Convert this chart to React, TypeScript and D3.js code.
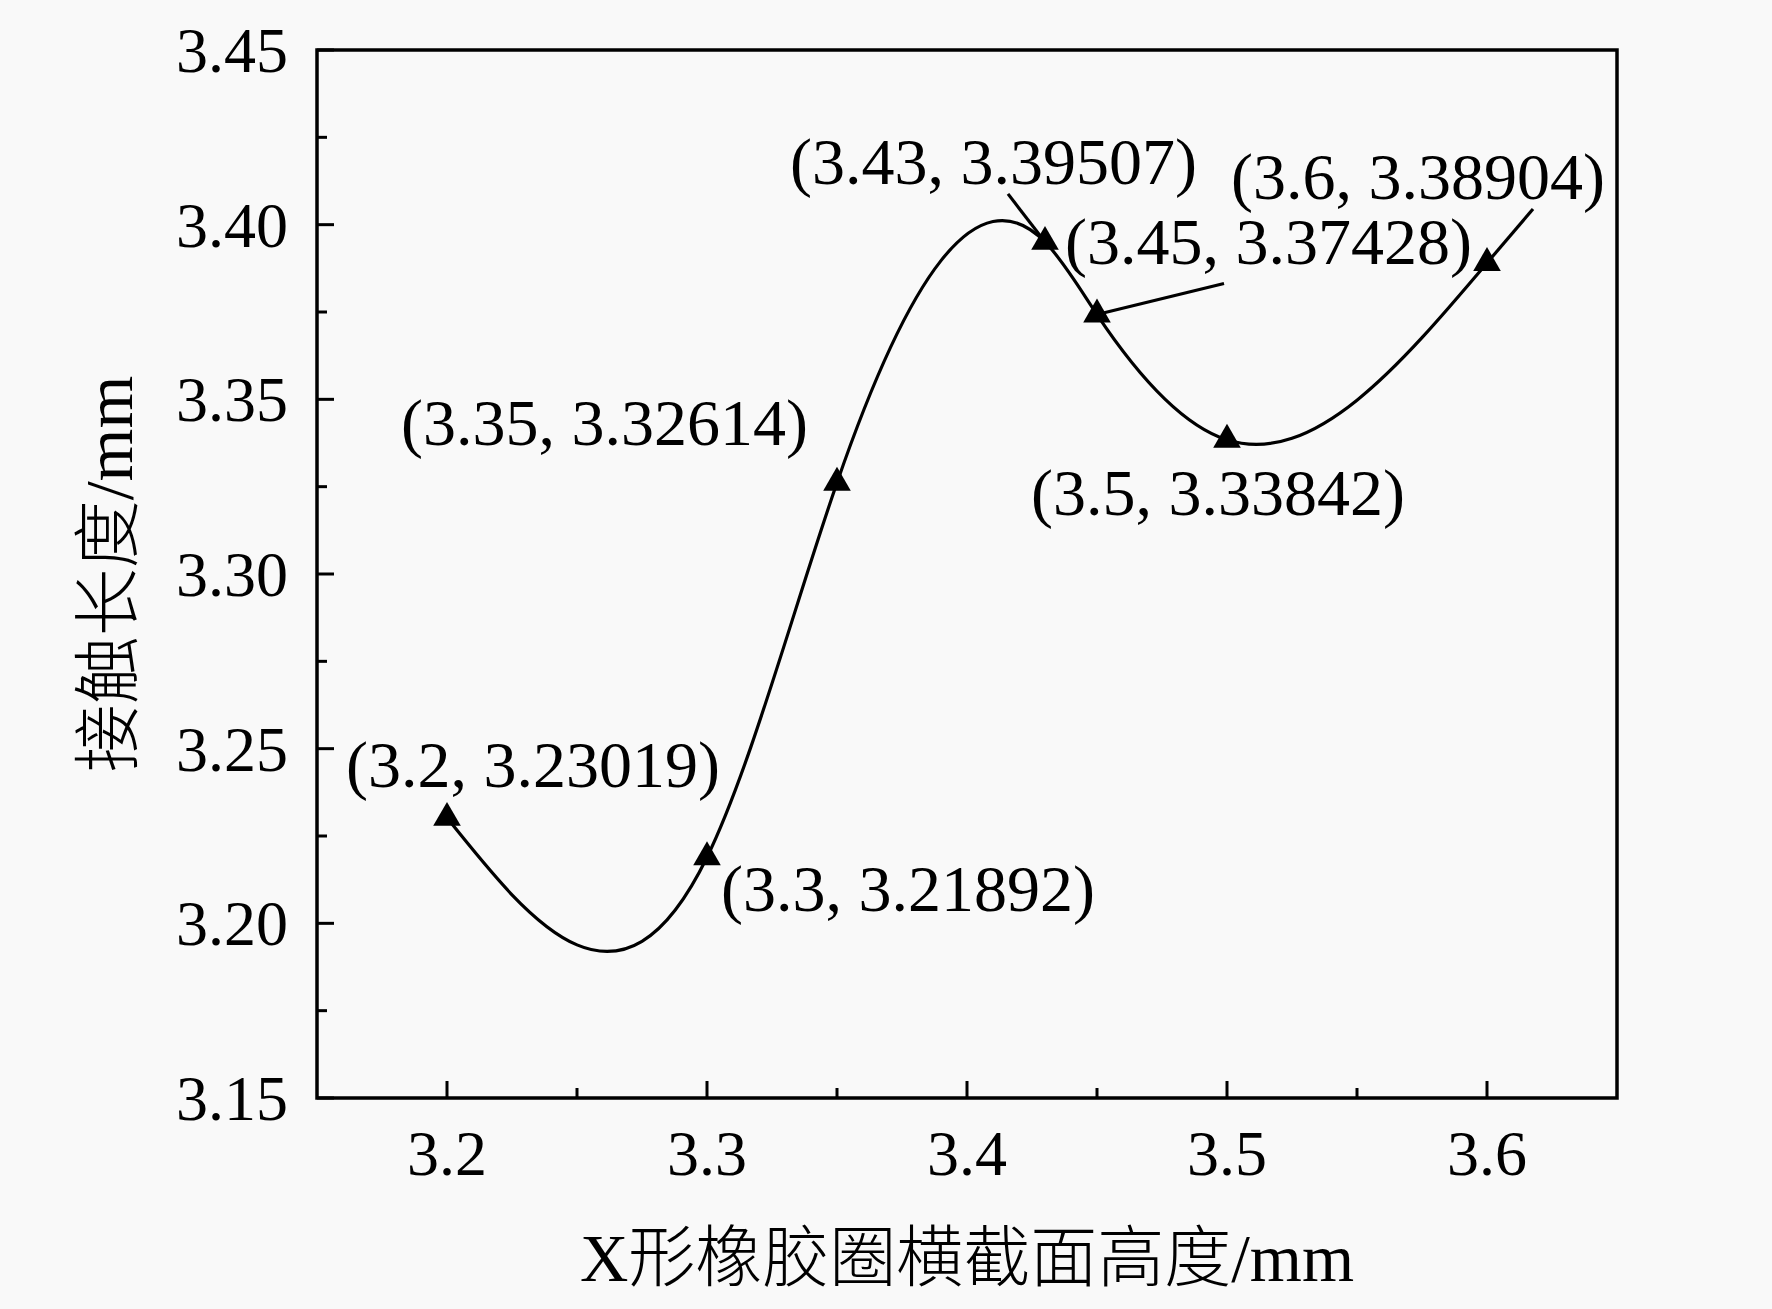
import { useMemo } from "react";
import * as d3 from "d3";

// 数据：X形橡胶圈横截面高度 vs 接触长度
const heights = [3.2, 3.3, 3.35, 3.43, 3.45, 3.5, 3.6];
const contactLengths = [3.23019, 3.21892, 3.32614, 3.39507, 3.37428, 3.33842, 3.38904];

const xTicks = [3.2, 3.3, 3.4, 3.5, 3.6];
const xMinorTicks = [3.25, 3.35, 3.45, 3.55];
const yTicks = [3.15, 3.2, 3.25, 3.3, 3.35, 3.4, 3.45];
const yMinorTicks = [3.175, 3.225, 3.275, 3.325, 3.375, 3.425];

const xTitle = "X形橡胶圈横截面高度/mm";
const yTitle = "接触长度/mm";

// label offset (px) relative to each point, optional leader start
const labelDx = [-101, 14, -436, -255, -32, -196, -256];
const labelDy = [-31, 54, -38, -58, -51, 75, -64];
const leaders: ([number, number] | null)[] = [null, null, null, [-37, -48], [127, -31], null, [46, -54]];

const W = 1772;
const H = 1309;
const margin = { left: 317, right: W - 1617, top: 50, bottom: H - 1098 };
const FONT = "'Liberation Serif', 'Times New Roman', 'Noto Sans CJK SC', serif";
const BG = "#f9f9f9";

// natural cubic spline in x (interpolating, like Origin's spline connect)
function curveNaturalX(context: any) {
  let xs: number[] = [];
  let ys: number[] = [];
  return {
    areaStart() {},
    areaEnd() {},
    lineStart() {
      xs = [];
      ys = [];
    },
    point(x: number, y: number) {
      xs.push(+x);
      ys.push(+y);
    },
    lineEnd() {
      const n = xs.length - 1;
      if (n < 1) return;
      context.moveTo(xs[0], ys[0]);
      if (n === 1) {
        context.lineTo(xs[1], ys[1]);
        return;
      }
      const h = d3.range(n).map((i) => xs[i + 1] - xs[i]);
      const M = new Array(n + 1).fill(0);
      // tridiagonal solve for interior second derivatives
      const a: number[] = [], b: number[] = [], c: number[] = [], r: number[] = [];
      for (let i = 1; i < n; i++) {
        a.push(h[i - 1]);
        b.push(2 * (h[i - 1] + h[i]));
        c.push(h[i]);
        r.push(6 * ((ys[i + 1] - ys[i]) / h[i] - (ys[i] - ys[i - 1]) / h[i - 1]));
      }
      const m = b.length;
      for (let i = 1; i < m; i++) {
        const w = a[i] / b[i - 1];
        b[i] -= w * c[i - 1];
        r[i] -= w * r[i - 1];
      }
      const sol = new Array(m).fill(0);
      sol[m - 1] = r[m - 1] / b[m - 1];
      for (let i = m - 2; i >= 0; i--) sol[i] = (r[i] - c[i] * sol[i + 1]) / b[i];
      for (let i = 1; i < n; i++) M[i] = sol[i - 1];

      for (let i = 0; i < n; i++) {
        const hi = h[i];
        const s = (ys[i + 1] - ys[i]) / hi;
        const d0 = s - (hi * (2 * M[i] + M[i + 1])) / 6;
        const d1 = s + (hi * (M[i] + 2 * M[i + 1])) / 6;
        context.bezierCurveTo(
          xs[i] + hi / 3,
          ys[i] + (d0 * hi) / 3,
          xs[i + 1] - hi / 3,
          ys[i + 1] - (d1 * hi) / 3,
          xs[i + 1],
          ys[i + 1]
        );
      }
    },
  };
}

export default function App() {
  const x = d3.scaleLinear().domain([3.15, 3.65]).range([margin.left, W - margin.right]);
  const y = d3.scaleLinear().domain([3.15, 3.45]).range([H - margin.bottom, margin.top]);

  const points = useMemo(
    () => heights.map((h, i) => ({ x: h, y: contactLengths[i] })),
    []
  );

  const line = d3
    .line<{ x: number; y: number }>()
    .x((d) => x(d.x))
    .y((d) => y(d.y))
    .curve(curveNaturalX as any);

  const tri = d3.symbol().type(d3.symbolTriangle).size(330)();

  const x0 = x.range()[0];
  const x1 = x.range()[1];
  const y0 = y.range()[0];
  const y1 = y.range()[1];

  return (
    <svg
      width={W}
      height={H}
      style={{ position: "absolute", left: 0, top: 0, background: BG }}
      fontFamily={FONT}
    >
      <rect width={W} height={H} fill={BG} />

      {/* 曲线 */}
      <path d={line(points) || ""} fill="none" stroke="#000" strokeWidth={3.2} />

      {/* 引线 */}
      {points.map((p, i) => {
        const l = leaders[i];
        if (!l) return null;
        return (
          <line
            key={"l" + i}
            x1={x(p.x) + l[0]}
            y1={y(p.y) + l[1]}
            x2={x(p.x)}
            y2={y(p.y)}
            stroke="#000"
            strokeWidth={3.2}
          />
        );
      })}

      {/* 三角标记 */}
      {points.map((p, i) => (
        <path key={"m" + i} d={tri || ""} transform={`translate(${x(p.x)},${y(p.y)})`} fill="#000" />
      ))}

      {/* 标注 */}
      {points.map((p, i) => (
        <text
          key={"t" + i}
          x={x(p.x) + labelDx[i]}
          y={y(p.y) + labelDy[i]}
          fontSize={66}
          fill="#000"
        >
          ({p.x}, {p.y.toFixed(5)})
        </text>
      ))}

      {/* 坐标框 */}
      <rect
        x={x0}
        y={y1}
        width={x1 - x0}
        height={y0 - y1}
        fill="none"
        stroke="#000"
        strokeWidth={3.5}
      />

      {/* x 轴刻度 */}
      {xTicks.map((t) => (
        <g key={"xt" + t}>
          <line x1={x(t)} x2={x(t)} y1={y0} y2={y0 - 17} stroke="#000" strokeWidth={3} />
          <text x={x(t)} y={1175} textAnchor="middle" fontSize={64}>
            {t.toFixed(1)}
          </text>
        </g>
      ))}
      {xMinorTicks.map((t) => (
        <line key={"xm" + t} x1={x(t)} x2={x(t)} y1={y0} y2={y0 - 10} stroke="#000" strokeWidth={3} />
      ))}

      {/* y 轴刻度 */}
      {yTicks.map((t) => (
        <g key={"yt" + t}>
          <line x1={x0} x2={x0 + 17} y1={y(t)} y2={y(t)} stroke="#000" strokeWidth={3} />
          <text x={x0 - 29} y={y(t) + 22} textAnchor="end" fontSize={64}>
            {t.toFixed(2)}
          </text>
        </g>
      ))}
      {yMinorTicks.map((t) => (
        <line key={"ym" + t} x1={x0} x2={x0 + 10} y1={y(t)} y2={y(t)} stroke="#000" strokeWidth={3} />
      ))}

      {/* 轴标题 */}
      <text x={(x0 + x1) / 2} y={1281} textAnchor="middle" fontSize={67} fontWeight={300}>
        {xTitle}
      </text>
      <text
        transform={`translate(132,${(y0 + y1) / 2}) rotate(-90)`}
        textAnchor="middle"
        fontSize={68}
        fontWeight={300}
      >
        {yTitle}
      </text>
    </svg>
  );
}
